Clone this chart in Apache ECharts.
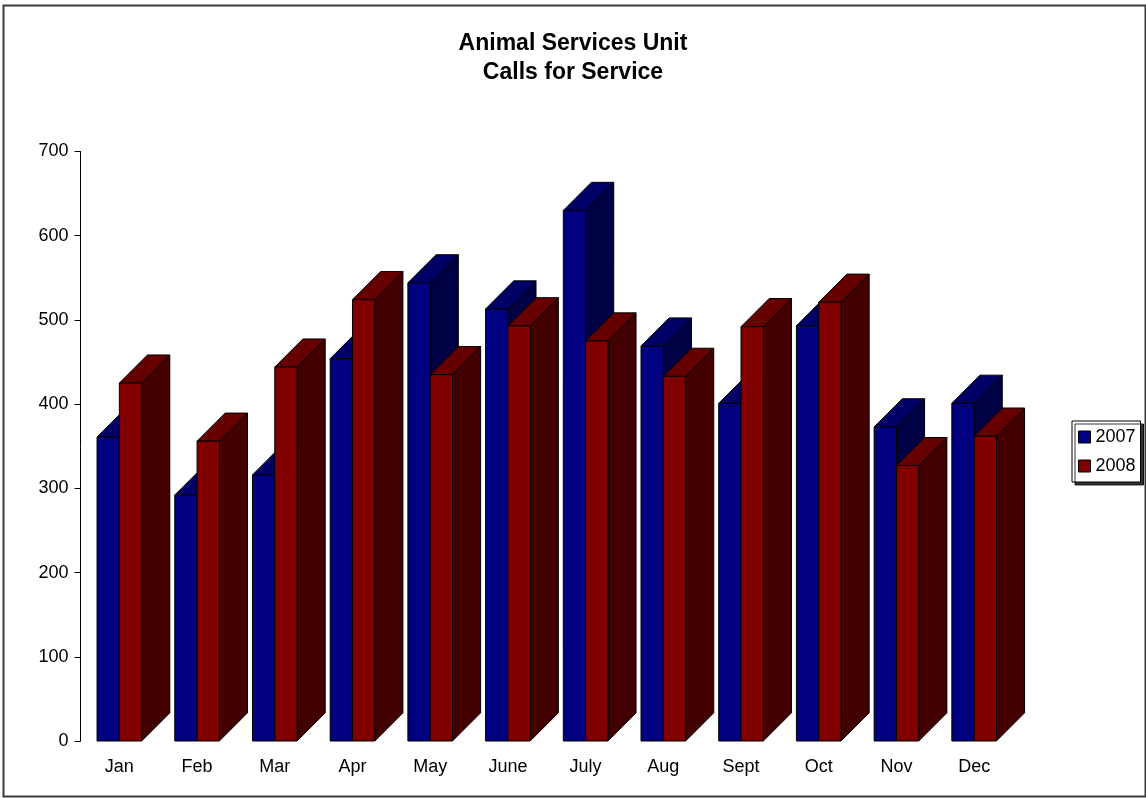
<!DOCTYPE html>
<html>
<head>
<meta charset="utf-8">
<script src="https://cdn.jsdelivr.net/npm/echarts@6/dist/echarts.min.js"></script>
<style>
html,body{margin:0;padding:0;background:#fff;}
#chart{width:1146px;height:798px;}
</style>
</head>
<body>
<div id="chart"></div>
<script>
const categories = ['Jan','Feb','Mar','Apr','May','June','July','Aug','Sept','Oct','Nov','Dec'];
const values2007 = [361, 292, 316, 454, 544, 513, 630, 469, 401, 493, 373, 401];
const values2008 = [425, 356, 444, 524, 435, 493, 475, 433, 492, 521, 327, 362];
const yTicks = [0, 100, 200, 300, 400, 500, 600, 700];

const FONT = "'Liberation Sans', Arial, sans-serif";
const palettes = [
  {front:'#000080', top:'#000066', side:'#000044'},
  {front:'#800000', top:'#660000', side:'#420000'}
];

function makeRender(si){
  return function(params, api){
    const cat = api.value(0), val = api.value(1);
    const base = api.coord([cat, 0]);
    const top = api.coord([cat, val]);
    const band = api.size([1, 0])[0];
    const w = band * 0.287;
    const d = band * 0.362;
    const x0 = base[0] - w + si * w;
    const ty = top[1], by = base[1];
    const p = palettes[si];
    const st = {stroke:'#000', lineWidth:1};
    return {
      type:'group',
      children:[
        {type:'polygon', shape:{points:[[x0+w,ty],[x0+w+d,ty-d],[x0+w+d,by-d],[x0+w,by]]}, style:Object.assign({fill:p.side}, st)},
        {type:'polygon', shape:{points:[[x0,ty],[x0+w,ty],[x0+w+d,ty-d],[x0+d,ty-d]]}, style:Object.assign({fill:p.top}, st)},
        {type:'rect', shape:{x:x0, y:ty, width:w, height:by-ty}, style:Object.assign({fill:p.front}, st)}
      ]
    };
  };
}

const chart = echarts.init(document.getElementById('chart'));
chart.setOption({
  animation:false,
  backgroundColor:'#fff',
  textStyle:{fontFamily:FONT},
  title:{
    text:'Animal Services Unit\nCalls for Service',
    left:'center', top:24,
    textStyle:{fontSize:23, fontWeight:'bold', lineHeight:29, color:'#000', fontFamily:FONT}
  },
  legend:{
    orient:'vertical', left:1072, top:421,
    padding:[6,5,6,6], itemGap:9, itemWidth:12, itemHeight:12,
    backgroundColor:'#fff', borderColor:'#000', borderWidth:1,
    shadowColor:'rgba(0,0,0,0.8)', shadowOffsetX:3, shadowOffsetY:3, shadowBlur:0.01,
    textStyle:{fontSize:18, color:'#000', lineHeight:20, fontFamily:FONT},
    itemStyle:{borderColor:'#000', borderWidth:1},
    data:[{name:'2007', icon:'rect'},{name:'2008', icon:'rect'}]
  },
  grid:{left:80.5, top:151.5, width:932.5, height:589.5, containLabel:false},
  xAxis:{
    type:'category', data:categories,
    axisLine:{show:false}, axisTick:{show:false}, splitLine:{show:false},
    axisLabel:{fontSize:18, color:'#000', margin:17, fontFamily:FONT}
  },
  yAxis:{
    type:'value', min:yTicks[0], max:yTicks[yTicks.length-1], interval:100,
    axisLine:{show:true, lineStyle:{color:'#000', width:1}},
    axisTick:{show:true, length:6, lineStyle:{color:'#000'}},
    splitLine:{show:false},
    axisLabel:{fontSize:18, color:'#000', margin:12, fontFamily:FONT}
  },
  graphic:[{
    type:'rect', silent:true, z:-1,
    shape:{x:3.5, y:5.5, width:1142, height:791},
    style:{fill:'none', stroke:'#3a3a3a', lineWidth:2}
  }],
  series:[
    {name:'2007', type:'custom', renderItem:makeRender(0), itemStyle:{color:'#000080'},
     encode:{x:0, y:1}, data:values2007.map((v,i)=>[i,v])},
    {name:'2008', type:'custom', renderItem:makeRender(1), itemStyle:{color:'#800000'},
     encode:{x:0, y:1}, data:values2008.map((v,i)=>[i,v])}
  ]
});
</script>
</body>
</html>
